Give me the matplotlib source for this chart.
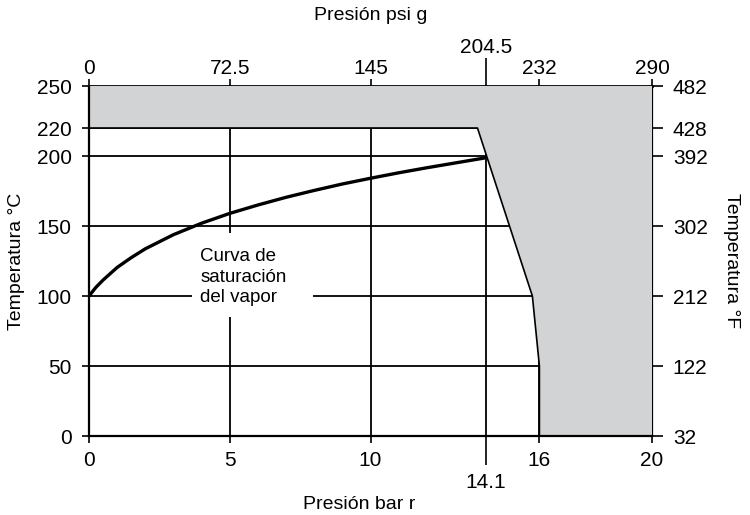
import matplotlib
matplotlib.use("Agg")
import matplotlib.pyplot as plt
from matplotlib.patches import Polygon, Rectangle
from matplotlib.ticker import NullFormatter

plt.rcParams['font.family'] = ['Liberation Sans', 'DejaVu Sans']

# Saturation curve (gauge pressure in bar, temperature in °C)
sat_bar = [0, 0.25, 0.5, 1, 1.5, 2, 3, 4, 5, 6, 7, 8, 9, 10, 11, 12, 13, 14, 14.1]
sat_C = [100, 106.3, 111.4, 120.4, 127.4, 133.7, 143.8, 152, 159, 165, 170.5,
         175.4, 180, 184.1, 188, 191.6, 195, 198.4, 198.8]

# Shaded region boundary
zone_bar = [0, 13.8, 15.75, 16, 16, 20, 20, 0]
zone_C = [220, 220, 100, 50, 0, 0, 250, 250]

# Ticks
bar_ticks = [0, 5, 10, 16, 20]
bar_special = [14.1]
psi_ticks = [0, 72.5, 145, 232, 290]
psi_special = [204.5]
C_ticks = [0, 50, 100, 150, 200, 220, 250]
F_ticks = [32, 122, 212, 302, 392, 428, 482]

fig = plt.figure(figsize=(7.5, 5.15), dpi=100)
ax = fig.add_axes([89/750, 1-436/515, (652-89)/750, (436-86)/515])
ax.set_xlim(0, 20)
ax.set_ylim(0, 250)

fs = 15
lfs = 14
ax.set_xticks(bar_ticks)
ax.set_xticklabels([f"{t:g}" for t in bar_ticks])
ax.set_xticks(bar_special, minor=True)
ax.set_xticklabels([f"{t:g}" for t in bar_special], minor=True)
ax.set_yticks(C_ticks)
ax.set_yticklabels([f"{t:g}" for t in C_ticks])
ax.tick_params(axis='x', which='major', direction='out', length=5, width=1.2, pad=5.5, labelsize=fs)
ax.tick_params(axis='x', which='minor', direction='out', length=21, width=1.2, pad=5.5, labelsize=fs)
ax.tick_params(axis='y', which='major', direction='out', length=5, width=1.2, pad=7.5, labelsize=fs)

# grid lines
ax.set_axisbelow(True)
ax.grid(True, which='both', color='black', linewidth=1.3)

# Shaded region
poly = Polygon(list(zip(zone_bar, zone_C)), closed=True, facecolor='#d1d3d4',
               edgecolor='none', zorder=1)
ax.add_patch(poly)
ax.plot(zone_bar[:5], zone_C[:5], color='black', linewidth=1.2, zorder=2)

# Saturation curve
ax.plot(sat_bar, sat_C, color='black', linewidth=2.4, zorder=3, solid_capstyle='butt')

# Label with white background
ax.add_patch(Rectangle((3.66, 85), 4.3, 60, facecolor='white', edgecolor='none', zorder=2.5))
ax.text(3.95, 113.5, "Curva de\nsaturación\ndel vapor", fontsize=13.5, ha='left', va='center',
        linespacing=1.3, zorder=4)

ax.spines['top'].set_visible(False)
ax.spines['right'].set_visible(False)
for s in ['left', 'bottom']:
    ax.spines[s].set_linewidth(1.6)
    ax.spines[s].set_zorder(5)

# top axis (psi)
top = ax.secondary_xaxis('top', functions=(lambda b: b*14.5, lambda p: p/14.5))
top.set_xticks(psi_ticks)
top.set_xticklabels([f"{t:g}" for t in psi_ticks])
top.set_xticks(psi_special, minor=True)
top.set_xticklabels([f"{t:g}" for t in psi_special], minor=True)
top.tick_params(which='major', direction='out', length=5, width=1.2, pad=0.5, labelsize=fs)
top.tick_params(which='minor', direction='out', length=20, width=1.2, pad=1, labelsize=fs)
top.spines['top'].set_linewidth(2)
top.set_xlabel("Presión psi g", fontsize=lfs, labelpad=12.5)

# right axis (°F)
right = ax.secondary_yaxis('right', functions=(lambda c: c*9/5+32, lambda f: (f-32)*5/9))
right.set_yticks(F_ticks)
right.set_yticklabels([f"{t:g}" for t in F_ticks])
right.yaxis.set_minor_formatter(NullFormatter())
right.tick_params(which='major', direction='out', length=8, width=1.2, pad=7, labelsize=fs)
right.tick_params(which='minor', length=0)
right.spines['right'].set_linewidth(1.6)
right.set_ylabel("Temperatura °F", fontsize=lfs, rotation=-90, va='bottom', labelpad=11)

ax.set_ylabel("Temperatura °C", fontsize=lfs)
ax.set_xlabel("Presión bar r", fontsize=lfs)
ax.xaxis.set_label_coords(0.48, -0.17)
ax.yaxis.set_label_coords(-0.113, 0.5)

fig.savefig("out.png", dpi=100)
